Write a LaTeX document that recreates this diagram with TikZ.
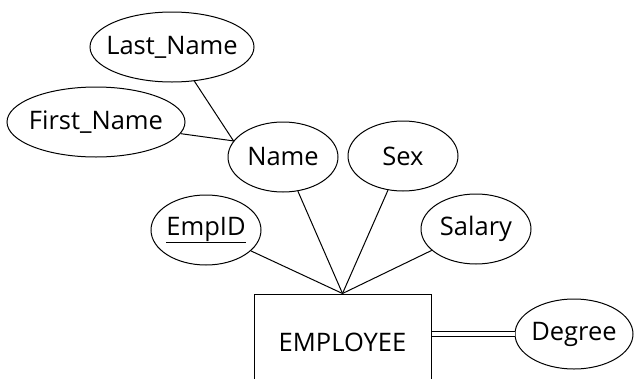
\documentclass[tikz,border=0pt]{standalone}
\usepackage{fontspec}
\setmainfont{Open Sans}
\usetikzlibrary{shapes.geometric}
\newcommand\zbox[1]{\makebox[0pt]{#1}}
\begin{document}
\begin{tikzpicture}[x=1pt,y=-1pt,
  attr/.style={ellipse,draw,line width=1pt,inner sep=0pt,minimum height=70pt,font=\fontsize{25.5}{30}\selectfont},
  ent/.style={rectangle,draw,line width=1pt,inner sep=0pt,minimum width=177pt,minimum height=96pt,font=\fontsize{25.5}{30}\selectfont},
  conn/.style={line width=1pt}]
\useasboundingbox (0,0) rectangle (635,378);
\clip (0,0) rectangle (635,378);
\node[attr,minimum width=164pt] (last) at (172,47) {\zbox{Last\_Name}};
\node[attr,minimum width=178pt] (first) at (96,122) {\zbox{First\_Name}};
\node[attr,minimum width=110pt] (name) at (283,157) {\zbox{Name}};
\node[attr,minimum width=110pt] (sex) at (403,156) {\zbox{Sex}};
\node[attr,minimum width=110pt] (salary) at (476,229) {\zbox{Salary}};
\node[attr,minimum width=110pt] (empid) at (206,230) {\zbox{\underline{EmpID}}};
\node[ent] (emp) at (342.5,342) {EMPLOYEE};
\node[attr,minimum width=118pt] (degree) at (574,334) {\zbox{Degree}};
\draw[conn] (last) -- (name.162);
\draw[conn] (first) -- (name.162);
\draw[conn] (name) -- (emp.north);
\draw[conn] (sex) -- (emp.north);
\draw[conn] (salary) -- (emp.north);
\draw[conn] (empid) -- (emp.north);
\draw[line width=1pt,double,double distance=4.5pt] (emp.east |- degree.west) -- (degree.west);
\end{tikzpicture}
\end{document}
